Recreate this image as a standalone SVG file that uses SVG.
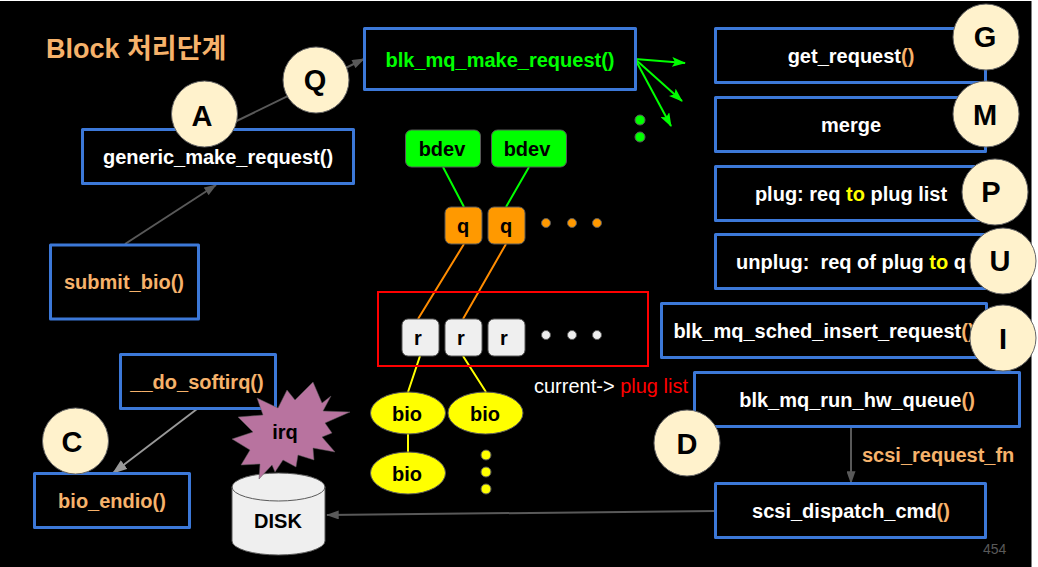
<svg xmlns="http://www.w3.org/2000/svg" width="1038" height="567" viewBox="0 0 1038 567">
<style>
text{font-family:"Liberation Sans","Noto Sans CJK KR",sans-serif;text-anchor:middle}
.b{fill:#000;stroke:#3c78d8;stroke-width:3;stroke-linejoin:round}
.t{font-size:20px;font-weight:700;fill:#fff}
.o{fill:#f6b26b}
.y{fill:#ff0}
.c circle{fill:#fff2cc;stroke:#666;stroke-width:1}
.c text{font-size:29px;font-weight:700;fill:#000}
.g{stroke:#595959;stroke-width:2;fill:none}
.gr{fill:#0f0;stroke:#595959}
.or{fill:#f90;stroke:#595959}
.wh{fill:#efefef;stroke:#595959}
.ye{fill:#ff0;stroke:#595959}
.n{font-size:20px;font-weight:700;fill:#000}
</style>
<defs>
<marker id="a2" viewBox="0 0 14 10" refX="13" refY="5" markerWidth="13" markerHeight="9" orient="auto" markerUnits="userSpaceOnUse"><path d="M0 0L14 5L0 10Z" fill="#595959"/></marker>
<marker id="a3" viewBox="0 0 14 10" refX="13" refY="5" markerWidth="15" markerHeight="11" orient="auto" markerUnits="userSpaceOnUse"><path d="M0 0L14 5L0 10Z" fill="#999"/></marker>
<marker id="s" viewBox="0 0 14 10" refX="13" refY="5" markerWidth="14" markerHeight="10" orient="auto" markerUnits="userSpaceOnUse"><path d="M0 0L14 5L0 10L3 5Z" fill="#0f0"/></marker>
</defs>
<rect width="1038" height="567" fill="#fff"/>
<rect x="0" y="1" width="1031.500" height="566" fill="#000"/>
<text x="46" y="58" style="text-anchor:start;font-size:27px;font-weight:700" class="o">Block 처리단계</text>
<g id="connectors">
<path class="g" d="M125 244L216 185" marker-end="url(#a2)"/>
<path class="g" d="M218 130L364 59" marker-end="url(#a2)"/>
<path d="M197 409L113 473" fill="none" stroke="#999" stroke-width="2" marker-end="url(#a3)"/>
<path class="g" d="M851 427V483" marker-end="url(#a2)"/>
<path class="g" d="M715 511L327 515" marker-end="url(#a2)"/>
<g fill="none" stroke="#0f0" stroke-width="2">
<path d="M635 59L685 63" marker-end="url(#s)"/>
<path d="M635 59L682 101" marker-end="url(#s)"/>
<path d="M635 59L671 126" marker-end="url(#s)"/>
<path d="M443 167L464 207M529 167L506 207"/>
</g>
<path d="M464 244L418 319M506 244L463 319" fill="none" stroke="#ff8c00" stroke-width="2"/>
<path d="M420 356L408 392M463 356L486 392M408 434V453" fill="none" stroke="#ff0" stroke-width="2"/>
</g>
<g id="generic"><rect class="b" x="82.500" y="129.500" width="271" height="54"/><text class="t" x="218" y="164">generic_make_request()</text></g>
<g id="submit"><rect class="b" x="50.500" y="245" width="148" height="74"/><text class="t" x="124" y="289" style="fill:#f6b26b">submit_bio()</text></g>
<g id="make"><rect class="b" x="364.500" y="28.500" width="271" height="61"/><text class="t" x="500" y="67" style="fill:#0f0">blk_mq_make_request()</text></g>
<g id="get"><rect class="b" x="715.500" y="28.500" width="270" height="54"/><text class="t" x="851" y="63">get_request<tspan class="o">()</tspan></text></g>
<g id="merge"><rect class="b" x="715.500" y="97.500" width="270" height="54"/><text class="t" x="851" y="132">merge</text></g>
<g id="plug"><rect class="b" x="715.500" y="166.500" width="270" height="54"/><text class="t" x="851" y="201">plug: req <tspan class="y">to</tspan> plug list</text></g>
<g id="unplug"><rect class="b" x="715.500" y="234.500" width="270" height="54"/><text class="t" x="851" y="269" xml:space="preserve">unplug:  req of plug <tspan class="y">to</tspan> q</text></g>
<g id="sched"><rect class="b" x="661.500" y="303.500" width="325" height="54"/><text class="t" x="824" y="338">blk_mq_sched_insert_request<tspan class="o">()</tspan></text></g>
<g id="run"><rect class="b" x="694.500" y="372.500" width="325" height="54"/><text class="t" x="857" y="407">blk_mq_run_hw_queue<tspan class="o">()</tspan></text></g>
<g id="dispatch"><rect class="b" x="715.500" y="483.500" width="270" height="54"/><text class="t" x="851" y="518">scsi_dispatch_cmd<tspan class="o">()</tspan></text></g>
<g id="softirq"><rect class="b" x="120.500" y="354.500" width="155" height="54"/><text class="t" x="197" y="389" style="fill:#f6b26b">__do_softirq()</text></g>
<g id="endio"><rect class="b" x="34.500" y="473.500" width="155" height="54"/><text class="t" x="112" y="508" style="fill:#f6b26b">bio_endio()</text></g>
<g id="bdev1"><rect class="gr" x="405.500" y="130" width="75" height="37" rx="6"/><text class="n" x="442" y="156">bdev</text></g>
<g id="bdev2"><rect class="gr" x="491.500" y="130" width="75" height="37" rx="6"/><text class="n" x="527" y="156">bdev</text></g>
<g id="q1"><rect class="or" x="445" y="207" width="37" height="37" rx="6"/><text class="n" x="463" y="233">q</text></g>
<g id="q2"><rect class="or" x="488" y="207" width="37" height="37" rx="6"/><text class="n" x="506" y="233">q</text></g>
<g id="qdots" class="or"><circle cx="546" cy="223" r="4.500"/><circle cx="572" cy="223" r="4.500"/><circle cx="597" cy="223" r="4.500"/></g>
<g id="gdots" class="gr"><circle cx="640" cy="120" r="5"/><circle cx="640" cy="137" r="5"/></g>
<rect id="pluglist" x="378" y="292" width="270" height="74" fill="none" stroke="#f00" stroke-width="2"/>
<g id="r1"><rect class="wh" x="402" y="319" width="37" height="37" rx="6"/><text class="n" x="418" y="345">r</text></g>
<g id="r2"><rect class="wh" x="445" y="319" width="37" height="37" rx="6"/><text class="n" x="461" y="345">r</text></g>
<g id="r3"><rect class="wh" x="488" y="319" width="37" height="37" rx="6"/><text class="n" x="504" y="345">r</text></g>
<g id="rdots" class="wh"><circle cx="546" cy="335" r="4.500"/><circle cx="572" cy="335" r="4.500"/><circle cx="597" cy="335" r="4.500"/></g>
<g id="bio1"><ellipse class="ye" cx="408" cy="413" rx="37.500" ry="21"/><text class="n" x="407" y="421">bio</text></g>
<g id="bio2"><ellipse class="ye" cx="485.500" cy="413" rx="37.500" ry="21"/><text class="n" x="485" y="421">bio</text></g>
<g id="bio3"><ellipse class="ye" cx="408" cy="473" rx="37.500" ry="21"/><text class="n" x="407" y="481">bio</text></g>
<g id="ydots" class="ye"><circle cx="486" cy="455" r="5"/><circle cx="486" cy="472" r="5"/><circle cx="486" cy="489" r="5"/></g>
<text x="534" y="393" style="text-anchor:start;font-size:20px" fill="#fff">current-&gt; <tspan fill="#f00">plug list</tspan></text>
<text class="t" x="862" y="462" style="text-anchor:start;fill:#f6b26b">scsi_request_fn</text>
<text x="983" y="554" style="text-anchor:start;font-size:14px" fill="#595959">454</text>
<g id="disk"><path d="M232 487A46.500 14 0 0 1 325 487V541A46.500 14 0 0 1 232 541Z" fill="#efefef" stroke="#595959"/><path d="M232 487A46.500 14 0 0 0 325 487" fill="none" stroke="#595959"/><text class="n" x="278" y="528">DISK</text></g>
<g id="irq"><polygon points="313,382 322,403 331,396 323,411 350,412 325,423 332,433 322,437 335,452 313,448 314,460 298,455 296,467 283,460 275,472 272,465 259,479 260,464 241,465 250,450 232,439 253,432 238,417 263,415 257,398 278,408 287,390 295,400" fill="#b8739f" stroke="#595959" stroke-width=".5"/><text class="n" x="285" y="439">irq</text></g>
<g class="c">
<g id="A"><circle cx="204.500" cy="114" r="33"/><text x="202" y="126">A</text></g>
<g id="Q"><circle cx="316" cy="80" r="33"/><text x="315" y="90">Q</text></g>
<g id="G"><circle cx="986" cy="37" r="33"/><text x="985" y="47">G</text></g>
<g id="M"><circle cx="986" cy="114" r="33"/><text x="985" y="125">M</text></g>
<g id="P"><circle cx="995" cy="192" r="33"/><text x="991" y="202">P</text></g>
<g id="U"><circle cx="1003" cy="261" r="33"/><text x="1000" y="271">U</text></g>
<g id="I"><circle cx="1003" cy="338" r="33"/><text x="1003" y="349">I</text></g>
<g id="D"><circle cx="687" cy="443" r="33"/><text x="687" y="454">D</text></g>
<g id="C"><circle cx="75.500" cy="441" r="33"/><text x="72" y="452">C</text></g>
</g>
</svg>
